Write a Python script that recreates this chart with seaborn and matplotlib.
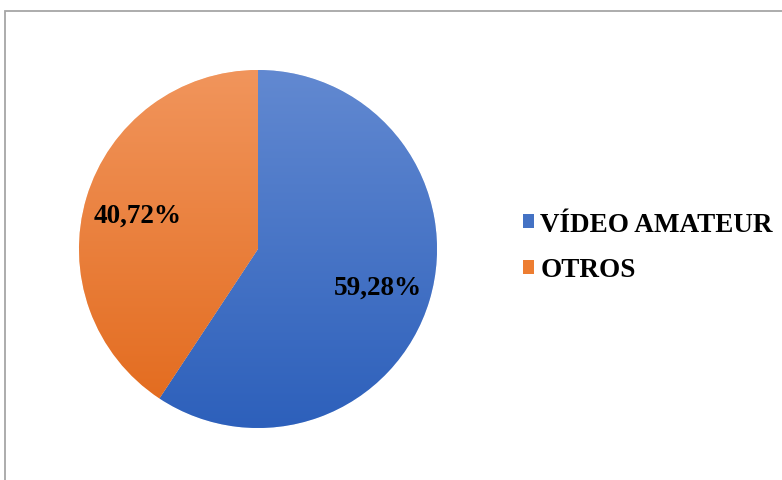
import numpy as np
import seaborn as sns
import matplotlib.pyplot as plt
from matplotlib.colors import LinearSegmentedColormap
from matplotlib.patches import Patch, Rectangle

# -------------------------------
# Data
# -------------------------------
categories = ["VÍDEO AMATEUR", "OTROS"]
values = [59.28, 40.72]
pct_labels = ["59,28%", "40,72%"]

# gradient colours (top -> bottom) per slice, legend colours
grad_colors = [("#6289D1", "#2D60BB"), ("#F1955C", "#E2691B")]
legend_colors = ["#4472C4", "#ED7D31"]

# -------------------------------
# Figure
# -------------------------------
sns.set_theme(style="white")
plt.rcParams["font.family"] = ["Liberation Serif", "DejaVu Serif"]

fig = plt.figure(figsize=(7.82, 4.81), dpi=100)
fig.patch.set_facecolor("white")

# chart area border (right/bottom edges fall outside the picture)
fig.add_artist(Rectangle((4.5 / 782, -0.05), 1.0, 1 - 11.5 / 481 + 0.05,
                         transform=fig.transFigure, fill=False,
                         edgecolor="#A6A6A6", linewidth=1.3))

ax = fig.add_axes([79 / 782, 52 / 481, 358 / 782, 358 / 481])
wedges, _ = ax.pie(values, startangle=90, counterclock=False,
                   colors=legend_colors,
                   wedgeprops=dict(edgecolor="white", linewidth=0.4))
ax.set_aspect("equal")

# vertical gradient fill, clipped to each wedge
for w, (c_top, c_bot) in zip(wedges, grad_colors):
    cmap = LinearSegmentedColormap.from_list("g", [c_bot, c_top])
    grad = np.linspace(0, 1, 256).reshape(-1, 1)
    im = ax.imshow(grad, cmap=cmap, extent=(-1, 1, -1, 1), origin="lower",
                   aspect="auto", zorder=w.get_zorder() + 0.1)
    im.set_clip_path(w)

# percentage labels
cum = np.cumsum([0] + values)
for i, lab in enumerate(pct_labels):
    mid = np.deg2rad(90 - (cum[i] + values[i] / 2) * 3.6)
    ax.text(0.70 * np.cos(mid), 0.70 * np.sin(mid) - 0.01, lab,
            ha="center", va="center", fontsize=19.5, fontweight="bold",
            color="black", zorder=10)
ax.set_xlim(-1, 1)
ax.set_ylim(-1, 1)
ax.axis("off")

handles = [Patch(facecolor=c, edgecolor="none") for c in legend_colors]
fig.legend(handles, categories, loc="center left",
           bbox_to_anchor=(523 / 782, 1 - 248 / 481), frameon=False,
           prop=dict(family="Liberation Serif", weight="bold", size=19.5),
           labelcolor="black",
           handlelength=0.4, handleheight=0.4, handletextpad=0.24,
           labelspacing=0.77, borderaxespad=0, borderpad=0)

fig.savefig("out.png", dpi=100)
plt.close()
